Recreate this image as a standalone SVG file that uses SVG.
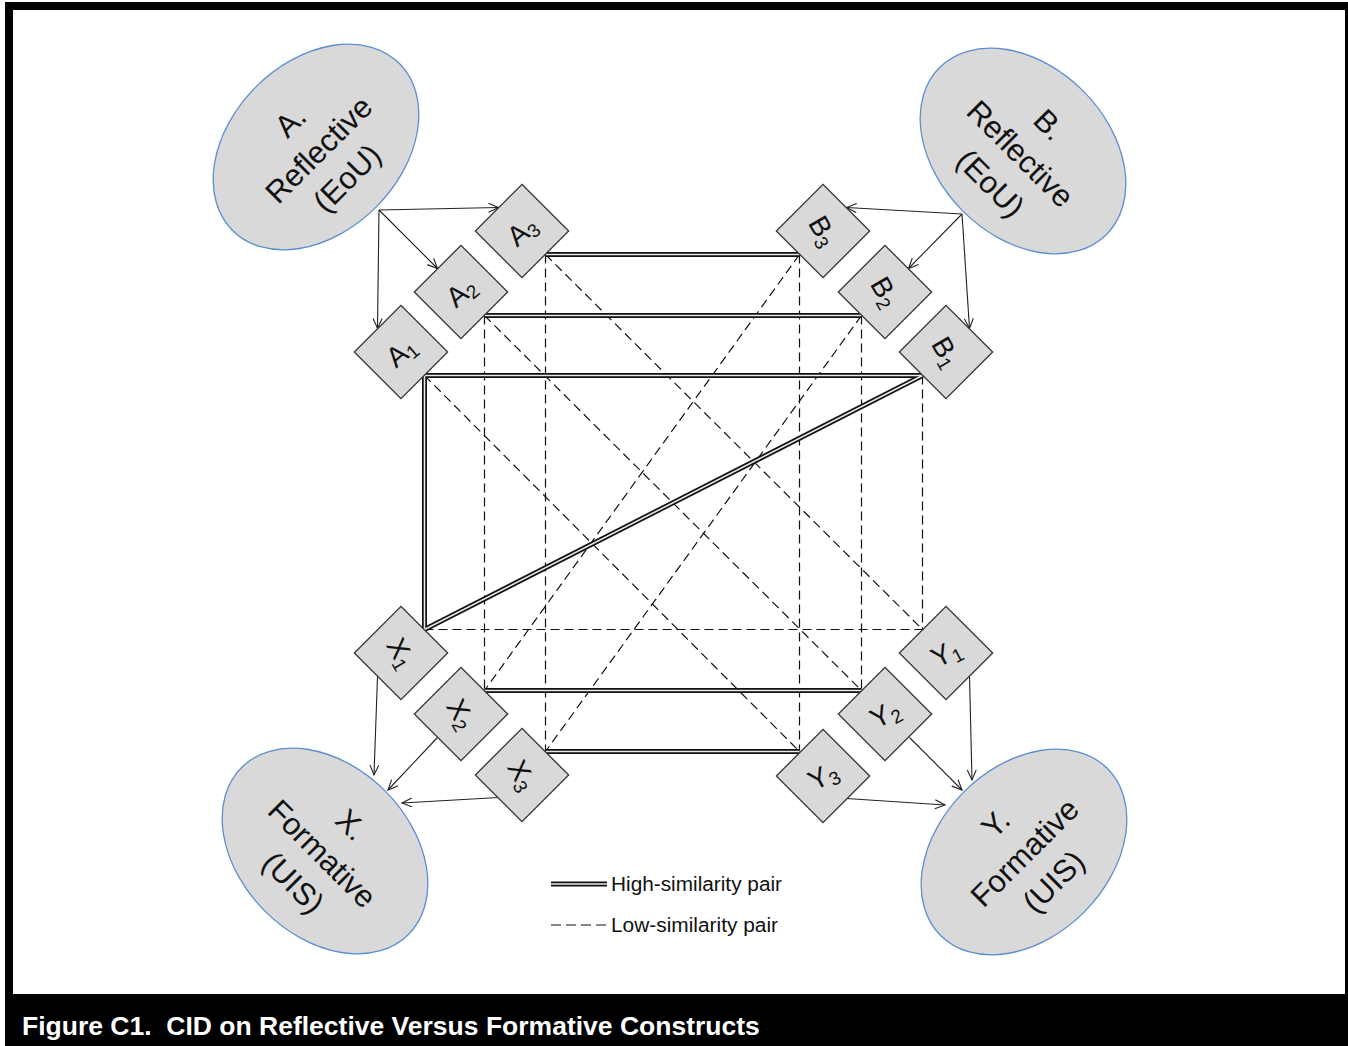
<svg xmlns="http://www.w3.org/2000/svg" width="1348" height="1046" viewBox="0 0 1348 1046">
  <defs>
    <style>
      .ell{fill:#d9d9d9;stroke:#5b8fd0;stroke-width:1.3}
      .dia{fill:#d9d9d9;stroke:#333;stroke-width:1.3}
      .elt{font-family:"Liberation Sans",Arial,sans-serif;font-size:31px;fill:#111;text-anchor:middle;dominant-baseline:central}
      .dl{font-family:"Liberation Sans",Arial,sans-serif;font-size:28px;fill:#111;text-anchor:middle;dominant-baseline:central}
      .sub{font-size:19px}
      .arr{stroke:#222;stroke-width:1.1;fill:none;marker-end:url(#ah)}
      .lo{stroke:#111;stroke-width:1.2;stroke-dasharray:9 5;fill:none}
      .hiO{stroke:#111;stroke-width:5;fill:none}
      .hiI{stroke:#e8e8e8;stroke-width:1.6;fill:none}
      .leg{font-family:"Liberation Sans",Arial,sans-serif;font-size:19.5px;fill:#111}
      .cap{font-family:"Liberation Sans",Arial,sans-serif;font-size:26.5px;font-weight:bold;fill:#fff;white-space:pre}
    </style>
    <marker id="ah" markerUnits="userSpaceOnUse" markerWidth="14" markerHeight="12" refX="11" refY="5" orient="auto">
      <path d="M1,0.5 L11,5 L1,9.5" fill="none" stroke="#222" stroke-width="1.1"/>
    </marker>
  </defs>

  <!-- page frame and caption band -->
  <rect x="0" y="0" width="1348" height="1046" fill="#fff"/>
  <rect x="5" y="2" width="1343" height="1044" fill="#000"/>
  <rect x="13" y="10" width="1332" height="984" fill="#fff"/>
  <text class="cap" x="22" y="1035" xml:space="preserve">Figure C1.  CID on Reflective Versus Formative Constructs</text>

  <!-- connectors -->
  <g id="connectors">
    <!-- low-similarity pairs -->
    <path class="lo" d="M424.5,629.5 H922.5"/>
    <path class="lo" d="M922.5,375.5 V629.5"/>
    <path class="lo" d="M484.5,315.5 V690.5"/>
    <path class="lo" d="M545.5,254.5 V751.5"/>
    <path class="lo" d="M861.5,315.5 V690.5"/>
    <path class="lo" d="M799.5,254.5 V751.5"/>
    <path class="lo" d="M424.5,375.5 L799.5,751.5"/>
    <path class="lo" d="M484.5,315.5 L861.5,690.5"/>
    <path class="lo" d="M545.5,254.5 L922.5,629.5"/>
    <path class="lo" d="M799.5,254.5 L484.5,690.5"/>
    <path class="lo" d="M861.5,315.5 L545.5,751.5"/>
    <!-- high-similarity pairs: dark outer stroke, light core -->
    <g class="hiO">
      <path d="M424.5,375.5 H922.5"/>
      <path d="M484.5,315.5 H861.5"/>
      <path d="M545.5,254.5 H799.5"/>
      <path d="M424.5,375.5 V629.5"/>
      <path d="M922.5,375.5 L424.5,629.5"/>
      <path d="M484.5,690.5 H861.5"/>
      <path d="M545.5,751.5 H799.5"/>
    </g>
    <g class="hiI">
      <path d="M424.5,375.5 H922.5"/>
      <path d="M484.5,315.5 H861.5"/>
      <path d="M545.5,254.5 H799.5"/>
      <path d="M424.5,375.5 V629.5"/>
      <path d="M922.5,375.5 L424.5,629.5"/>
      <path d="M484.5,690.5 H861.5"/>
      <path d="M545.5,751.5 H799.5"/>
    </g>
    <!-- construct to indicator / indicator to construct arrows -->
    <path class="arr" d="M379,210 L498.5,207.5"/>
    <path class="arr" d="M379,210 L437.5,268.5"/>
    <path class="arr" d="M379,210 L377.5,328.5"/>
    <path class="arr" d="M962,214 L846.5,207.5"/>
    <path class="arr" d="M962,214 L908.5,268.5"/>
    <path class="arr" d="M962,214 L969.5,328.5"/>
    <path class="arr" d="M377.5,676.5 L374,775"/>
    <path class="arr" d="M437.5,737.5 L388,790"/>
    <path class="arr" d="M498.5,797.5 L402,803"/>
    <path class="arr" d="M969.5,676.5 L972,780"/>
    <path class="arr" d="M909.5,737.5 L962,790"/>
    <path class="arr" d="M846.5,798.5 L945,805"/>
  </g>

  <!-- constructs -->
  <g id="A">
    <g transform="translate(316,147) rotate(-45)">
      <ellipse class="ell" rx="118" ry="85"/>
      <text class="elt" y="-36">A.</text>
      <text class="elt" y="4">Reflective</text>
      <text class="elt" y="44">(EoU)</text>
    </g>
  </g>
  <g id="B">
    <g transform="translate(1023,151) rotate(45)">
      <ellipse class="ell" rx="118" ry="85"/>
      <text class="elt" y="-37">B.</text>
      <text class="elt" y="4">Reflective</text>
      <text class="elt" y="46">(EoU)</text>
    </g>
  </g>
  <g id="X">
    <g transform="translate(325,851) rotate(45)">
      <ellipse class="ell" rx="118" ry="85"/>
      <text class="elt" y="-37">X.</text>
      <text class="elt" y="4">Formative</text>
      <text class="elt" y="45">(UIS)</text>
    </g>
  </g>
  <g id="Y">
    <g transform="translate(1024,852) rotate(-45)">
      <ellipse class="ell" rx="118" ry="85"/>
      <text class="elt" y="-40">Y.</text>
      <text class="elt" y="1">Formative</text>
      <text class="elt" y="42">(UIS)</text>
    </g>
  </g>

  <!-- indicators -->
  <g id="A1"><rect class="dia" x="-33" y="-33" width="66" height="66" transform="translate(401,352) rotate(45)"/>
    <text class="dl" transform="translate(401,352) rotate(-40)">A<tspan class="sub" dy="7">1</tspan></text></g>
  <g id="A2"><rect class="dia" x="-33" y="-33" width="66" height="66" transform="translate(461,292) rotate(45)"/>
    <text class="dl" transform="translate(461,292) rotate(-40)">A<tspan class="sub" dy="7">2</tspan></text></g>
  <g id="A3"><rect class="dia" x="-33" y="-33" width="66" height="66" transform="translate(522,231) rotate(45)"/>
    <text class="dl" transform="translate(522,231) rotate(-40)">A<tspan class="sub" dy="7">3</tspan></text></g>

  <g id="B1"><rect class="dia" x="-33" y="-33" width="66" height="66" transform="translate(946,352) rotate(45)"/>
    <text class="dl" transform="translate(946,352) rotate(60)">B<tspan class="sub" dy="7">1</tspan></text></g>
  <g id="B2"><rect class="dia" x="-33" y="-33" width="66" height="66" transform="translate(885,292) rotate(45)"/>
    <text class="dl" transform="translate(885,292) rotate(60)">B<tspan class="sub" dy="7">2</tspan></text></g>
  <g id="B3"><rect class="dia" x="-33" y="-33" width="66" height="66" transform="translate(823,231) rotate(45)"/>
    <text class="dl" transform="translate(823,231) rotate(60)">B<tspan class="sub" dy="7">3</tspan></text></g>

  <g id="X1"><rect class="dia" x="-33" y="-33" width="66" height="66" transform="translate(401,653) rotate(45)"/>
    <text class="dl" transform="translate(401,653) rotate(60)">X<tspan class="sub" dy="7">1</tspan></text></g>
  <g id="X2"><rect class="dia" x="-33" y="-33" width="66" height="66" transform="translate(461,714) rotate(45)"/>
    <text class="dl" transform="translate(461,714) rotate(60)">X<tspan class="sub" dy="7">2</tspan></text></g>
  <g id="X3"><rect class="dia" x="-33" y="-33" width="66" height="66" transform="translate(522,775) rotate(45)"/>
    <text class="dl" transform="translate(522,775) rotate(60)">X<tspan class="sub" dy="7">3</tspan></text></g>

  <g id="Y1"><rect class="dia" x="-33" y="-33" width="66" height="66" transform="translate(946,653) rotate(45)"/>
    <text class="dl" transform="translate(946,653) rotate(-28)">Y<tspan class="sub" dy="7">1</tspan></text></g>
  <g id="Y2"><rect class="dia" x="-33" y="-33" width="66" height="66" transform="translate(885,714) rotate(45)"/>
    <text class="dl" transform="translate(885,714) rotate(-28)">Y<tspan class="sub" dy="7">2</tspan></text></g>
  <g id="Y3"><rect class="dia" x="-33" y="-33" width="66" height="66" transform="translate(823,776) rotate(45)"/>
    <text class="dl" transform="translate(823,776) rotate(-28)">Y<tspan class="sub" dy="7">3</tspan></text></g>

  <!-- legend -->
  <g id="legend">
    <path d="M551,884 H607" stroke="#111" stroke-width="5"/>
    <path d="M551,884 H607" stroke="#e8e8e8" stroke-width="1.6"/>
    <text class="leg" x="611" y="891" textLength="171" lengthAdjust="spacingAndGlyphs">High-similarity pair</text>
    <path d="M551,925 H607" stroke="#111" stroke-width="1.2" stroke-dasharray="10 5"/>
    <text class="leg" x="611" y="932" textLength="167" lengthAdjust="spacingAndGlyphs">Low-similarity pair</text>
  </g>
</svg>
